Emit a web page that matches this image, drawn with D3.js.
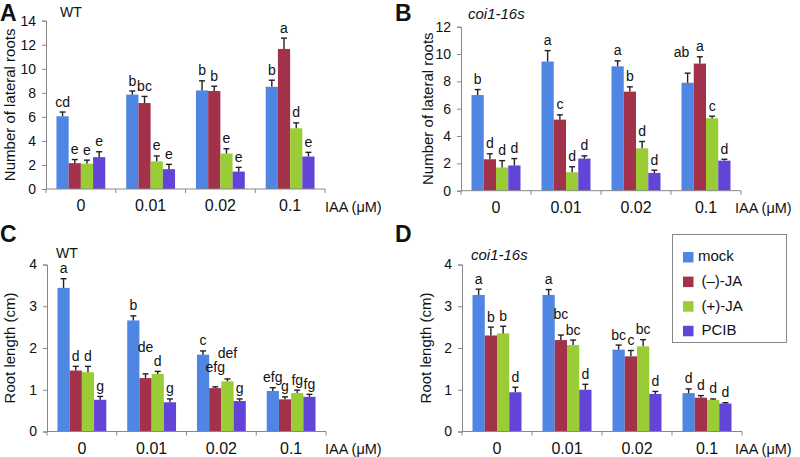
<!DOCTYPE html>
<html><head><meta charset="utf-8">
<script src="https://cdn.jsdelivr.net/npm/d3@7"></script>
<style>body{margin:0;background:#fff}svg{display:block}text{font-family:"Liberation Sans",Arial,sans-serif;fill:#111}</style>
</head><body>
<svg id="c" width="800" height="457"></svg>
<script>
const groups = ["0","0.01","0.02","0.1"];
const series = ["mock","(\u2013)-JA","(+)-JA","PCIB"];
const colors = ["#4f86e3","#a2324a","#9acd35","#6245d8"];

// Panel A: WT lateral roots
const A_mock = [6.05,7.85,8.2,8.5],  A_mock_err = [0.35,0.3,0.8,0.55];
const A_mJA  = [2.15,7.15,8.15,11.65], A_mJA_err = [0.3,0.55,0.4,0.9];
const A_pJA  = [2.1,2.3,2.95,5.05],  A_pJA_err = [0.3,0.45,0.4,0.45];
const A_pcib = [2.65,1.65,1.45,2.7], A_pcib_err = [0.45,0.4,0.35,0.35];
const A_letters = [["cd","b","b","b"],["e","bc","b","a"],["e","e","e","d"],["e","e","e","e"]];

// Panel B: coi1-16s lateral roots
const B_mock = [7.0,9.45,9.1,7.9],   B_mock_err = [0.4,0.8,0.4,0.7];
const B_mJA  = [2.3,5.2,7.25,9.3],   B_mJA_err = [0.4,0.35,0.35,0.5];
const B_pJA  = [1.7,1.35,3.1,5.3],   B_pJA_err = [0.5,0.4,0.5,0.15];
const B_pcib = [1.85,2.35,1.3,2.2],  B_pcib_err = [0.5,0.2,0.2,0.1];
const B_letters = [["b","a","a","ab"],["d","c","b","a"],["d","d","d","c"],["d","d","d","d"]];

// Panel C: WT root length
const C_mock = [3.44,2.66,1.84,0.97], C_mock_err = [0.22,0.11,0.09,0.08];
const C_mJA  = [1.46,1.28,1.04,0.77], C_mJA_err = [0.1,0.1,0.03,0.06];
const C_pJA  = [1.42,1.38,1.2,0.92],  C_pJA_err = [0.14,0.06,0.06,0.07];
const C_pcib = [0.76,0.70,0.73,0.83], C_pcib_err = [0.08,0.08,0.05,0.06];
const C_letters = [["a","b","c","efg"],["d","de","efg","g"],["d","d","def","fg"],["g","g","g","fg"]];

// Panel D: coi1-16s root length
const D_mock = [3.27,3.27,1.96,0.92], D_mock_err = [0.14,0.13,0.11,0.1];
const D_mJA  = [2.30,2.19,1.8,0.81],  D_mJA_err = [0.2,0.12,0.14,0.05];
const D_pJA  = [2.35,2.07,2.04,0.76], D_pJA_err = [0.17,0.12,0.16,0.02];
const D_pcib = [0.94,1.0,0.9,0.67],   D_pcib_err = [0.12,0.13,0.06,0.02];
const D_letters = [["a","a","bc","d"],["b","bc","c","d"],["b","bc","bc","d"],["d","d","d","d"]];

const ticksLR = [0,2,4,6,8,10,12,14];
const ticksLR_B = [0,2,4,6,8,10,12];
const ticksRL = [0,1,2,3,4];

// label placement tweaks (style only): key "series-group" -> [dx, dy] in px
const nudgeB = {"0-3":[-6,-11]};
const nudgeC = {"1-1":[0,-16],"1-2":[0,-9],"2-2":[0,-15]};
const nudgeD = {"1-1":[0,-11]};

const svg = d3.select("#c");

function panel(cfg){
  const g = svg.append("g");
  const x = d3.scaleBand().domain(groups).range([cfg.x0,cfg.x1]).paddingInner(0.3).paddingOuter(0.15);
  const xs = d3.scaleBand().domain(d3.range(4)).range([0,x.bandwidth()]);
  const y = d3.scaleLinear().domain([0,cfg.ymax]).range([cfg.y0,cfg.y1]);
  const vals = cfg.vals, errs = cfg.errs, nudge = cfg.nudge || {};
  groups.forEach((grp,gi)=>{
    for(let s=0;s<4;s++){
      const bx = x(grp)+xs(s), v = vals[s][gi], e = errs[s][gi];
      g.append("rect").attr("x",bx).attr("y",y(v)).attr("width",xs.bandwidth()).attr("height",y(0)-y(v)).attr("fill",colors[s]);
      const cx = bx + xs.bandwidth()/2;
      g.append("line").attr("x1",cx).attr("x2",cx).attr("y1",y(v)).attr("y2",y(v+e)).attr("stroke","#222").attr("stroke-width",1.4);
      g.append("line").attr("x1",cx-3).attr("x2",cx+3).attr("y1",y(v+e)).attr("y2",y(v+e)).attr("stroke","#222").attr("stroke-width",1.4);
      const nd = nudge[s+"-"+gi] || [0,0];
      g.append("text").attr("x",cx+nd[0]).attr("y",y(v+e)-5.5+nd[1]).attr("text-anchor","middle").style("font-size","14px").text(cfg.letters[s][gi]);
    }
  });
  const ya = d3.axisLeft(y).tickValues(cfg.ticks).tickSize(4).tickPadding(6).tickFormat(d3.format("d"));
  const yg = g.append("g").attr("transform",`translate(${cfg.x0},0)`).call(ya);
  yg.select(".domain").attr("stroke","#888");
  yg.selectAll(".tick line").attr("stroke","#888");
  yg.selectAll(".tick text").style("font-size","14px").style("font-family","Liberation Sans, Arial, sans-serif").attr("fill","#111");
  const xa = d3.axisBottom(x).tickSize(0).tickPadding(11);
  const xg = g.append("g").attr("transform",`translate(0,${cfg.y0})`).call(xa);
  xg.select(".domain").attr("stroke","#888").attr("d",`M${cfg.x0},0H${cfg.x1}`);
  xg.selectAll(".tick text").style("font-size","16px").style("font-family","Liberation Sans, Arial, sans-serif").attr("fill","#111");
  const bounds = groups.map(gp=>x(gp)-x.step()*x.paddingInner()/2);
  bounds.push(x(groups[3])+x.bandwidth()+x.step()*x.paddingInner()/2);
  bounds.forEach(b=>g.append("line").attr("x1",b).attr("x2",b).attr("y1",cfg.y0).attr("y2",cfg.y0+4).attr("stroke","#888"));
  g.append("text").attr("x",cfg.iaax).attr("y",cfg.y0+22.5).style("font-size","14.5px").text("IAA (\u03bcM)");
  g.append("text").attr("transform",`translate(${cfg.tx},${(cfg.y0+cfg.y1)/2}) rotate(-90)`).attr("text-anchor","middle").style("font-size","15px").text(cfg.ytitle);
  g.append("text").attr("x",cfg.lx).attr("y",cfg.ly).style("font-size","23px").style("font-weight","bold").text(cfg.label);
  const st = g.append("text").attr("x",cfg.sx).attr("y",cfg.sy).style("font-size",cfg.italic?"15px":"14px").text(cfg.sub);
  if(cfg.italic) st.style("font-style","italic");
  return g;
}

panel({x0:46,x1:325,y0:189,y1:20.7,ymax:14,ticks:ticksLR,iaax:325,
  vals:[A_mock,A_mJA,A_pJA,A_pcib],errs:[A_mock_err,A_mJA_err,A_pJA_err,A_pcib_err],letters:A_letters,
  ytitle:"Number of lateral roots",tx:15,label:"A",lx:0,ly:21,sub:"WT",sx:60,sy:17,italic:false});
panel({x0:461,x1:741,y0:190.7,y1:26.7,ymax:12,ticks:ticksLR_B,iaax:735,nudge:nudgeB,
  vals:[B_mock,B_mJA,B_pJA,B_pcib],errs:[B_mock_err,B_mJA_err,B_pJA_err,B_pcib_err],letters:B_letters,
  ytitle:"Number of lateral roots",tx:433,label:"B",lx:395,ly:21,sub:"coi1-16s",sx:468,sy:19,italic:true});
panel({x0:47,x1:326,y0:431.5,y1:264.5,ymax:4,ticks:ticksRL,iaax:325,nudge:nudgeC,
  vals:[C_mock,C_mJA,C_pJA,C_pcib],errs:[C_mock_err,C_mJA_err,C_pJA_err,C_pcib_err],letters:C_letters,
  ytitle:"Root length (cm)",tx:15,label:"C",lx:0,ly:242,sub:"WT",sx:56,sy:258,italic:false});
panel({x0:462,x1:742,y0:431.5,y1:264.5,ymax:4,ticks:ticksRL,iaax:735,nudge:nudgeD,
  vals:[D_mock,D_mJA,D_pJA,D_pcib],errs:[D_mock_err,D_mJA_err,D_pJA_err,D_pcib_err],letters:D_letters,
  ytitle:"Root length (cm)",tx:431,label:"D",lx:395,ly:242,sub:"coi1-16s",sx:471,sy:260,italic:true});

const lg = svg.append("g").attr("transform","translate(672,234)");
lg.append("rect").attr("x",0.5).attr("y",0.5).attr("width",114).attr("height",108).attr("fill","#fff").attr("stroke","#888");
series.forEach((s,i)=>{
  lg.append("rect").attr("x",11).attr("y",18+i*24.6).attr("width",10.5).attr("height",10.5).attr("fill",colors[i]);
  lg.append("text").attr("x",i==0?26:29.5).attr("y",27+i*24.8).style("font-size","15px").text(s);
});
</script>
</body></html>
